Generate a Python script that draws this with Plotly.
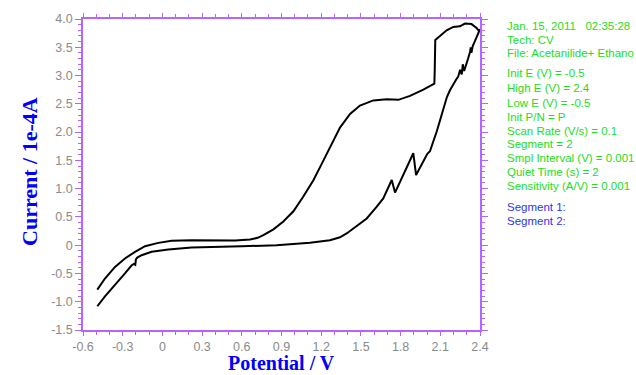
import plotly.graph_objects as go

# Forward scan (upper branch), ascending potential
fwd_E = [-0.492, -0.434, -0.358, -0.283, -0.207, -0.131, -0.031, 0.07, 0.221, 0.397,
         0.55, 0.662, 0.72, 0.763, 0.839, 0.914, 0.99, 1.065, 1.141, 1.2, 1.266,
         1.342, 1.418, 1.493, 1.594, 1.695, 1.783, 1.871, 1.972, 2.055, 2.058,
         2.062, 2.08, 2.148, 2.198, 2.248, 2.286, 2.336, 2.374, 2.395]
fwd_I = [-0.786, -0.59, -0.385, -0.236, -0.118, -0.018, 0.041, 0.077, 0.089, 0.08,
         0.085, 0.10, 0.13, 0.177, 0.28, 0.42, 0.60, 0.86, 1.15, 1.42, 1.74,
         2.08, 2.32, 2.47, 2.56, 2.58, 2.57, 2.64, 2.75, 2.855, 3.1,
         3.63, 3.665, 3.80, 3.86, 3.87, 3.92, 3.91, 3.84, 3.78]

# Reverse scan (lower branch), descending potential
rev_E = [2.40, 2.375, 2.36, 2.345, 2.335, 2.33, 2.325, 2.31, 2.295, 2.28, 2.27,
         2.262, 2.25, 2.235, 2.22, 2.195, 2.173, 2.15, 2.123, 2.1, 2.073, 2.045,
         2.022, 2.002, 1.917, 1.896, 1.758, 1.733, 1.669, 1.62, 1.544, 1.443,
         1.392, 1.342, 1.266, 1.115, 0.863, 0.6, 0.397, 0.221, 0.045, -0.081,
         -0.157, -0.19, -0.2, -0.205, -0.215, -0.232, -0.283, -0.358, -0.434, -0.492]
rev_I = [3.82, 3.70, 3.60, 3.52, 3.40, 3.50, 3.42, 3.30, 3.17, 3.08, 3.20,
         3.02, 3.10, 2.98, 2.93, 2.83, 2.74, 2.62, 2.40, 2.22, 2.01, 1.82,
         1.66, 1.615, 1.24, 1.626, 0.93, 1.153, 0.828, 0.68, 0.473, 0.296,
         0.207, 0.14, 0.089, 0.041, 0.0, -0.02, -0.03, -0.041, -0.077, -0.118,
         -0.177, -0.22, -0.25, -0.345, -0.33, -0.355, -0.50, -0.697, -0.904, -1.08]

x_ticks = [-0.6, -0.3, 0, 0.3, 0.6, 0.9, 1.2, 1.5, 1.8, 2.1, 2.4]
x_labels = ["-0.6", "-0.3", "0", "0.3", "0.6", "0.9", "1.2", "1.5", "1.8", "2.1", "2.4"]
y_ticks = [-1.5, -1.0, -0.5, 0, 0.5, 1.0, 1.5, 2.0, 2.5, 3.0, 3.5, 4.0]
y_labels = ["-1.5", "-1.0", "-0.5", "0", "0.5", "1.0", "1.5", "2.0", "2.5", "3.0", "3.5", "4.0"]

info_green = ["Jan. 15, 2011   02:35:28", "Tech: CV", "File: Acetanilide+ Ethano",
              "Init E (V) = -0.5", "High E (V) = 2.4", "Low E (V) = -0.5", "Init P/N = P",
              "Scan Rate (V/s) = 0.1", "Segment = 2", "Smpl Interval (V) = 0.001",
              "Quiet Time (s) = 2", "Sensitivity (A/V) = 0.001"]
info_green_y = [26, 40, 53, 73, 88, 103, 117, 131, 144, 158, 172, 186]
info_blue = ["Segment 1:", "Segment 2:"]
info_blue_y = [207, 221]

E = fwd_E + rev_E
I = fwd_I + rev_I

fig = go.Figure()
fig.add_trace(go.Scatter(x=E, y=I, mode="lines",
                         line=dict(color="black", width=2), showlegend=False))

axis_col = "#b266ff"
sans = "Liberation Sans, Arial, sans-serif"
serif = "Liberation Serif, Times New Roman, serif"

common = dict(showline=True, linecolor=axis_col, linewidth=1.5, mirror="allticks",
              ticks="outside", tickcolor=axis_col, tickwidth=1,
              showgrid=False, zeroline=False,
              tickfont=dict(family=sans, size=12.5, color="#8a8a8a"))

fig.update_xaxes(range=[-0.6, 2.4], tickvals=x_ticks, ticktext=x_labels, ticklen=4,
                 minor=dict(ticks="outside", ticklen=3, dtick=0.1, tick0=0,
                            tickcolor=axis_col, showgrid=False),
                 **common)
fig.update_yaxes(range=[-1.5, 4.0], tickvals=y_ticks, ticktext=y_labels, ticklen=6,
                 minor=dict(ticks="outside", ticklen=3, dtick=0.1, tick0=0,
                            tickcolor=axis_col, showgrid=False),
                 **common)

top_px, bot_px, left_px, right_px = 19.4, 329.6, 83, 480
H = bot_px - top_px
W = right_px - left_px

def py(p):
    return (bot_px - p) / H

def px(p):
    return (p - left_px) / W

ann = []
ann.append(dict(text="<b>Current / 1e-4A</b>", x=px(30), y=py(172), xref="paper", yref="paper",
                textangle=-90, showarrow=False, xanchor="center", yanchor="middle",
                font=dict(family=serif, size=22, color="#0000ff")))
ann.append(dict(text="<b>Potential / V</b>", x=px(281), y=py(375), xref="paper", yref="paper",
                showarrow=False, xanchor="center", yanchor="bottom",
                font=dict(family=serif, size=20, color="#0000ff")))
for t, yy in zip(info_green, info_green_y):
    ann.append(dict(text=t, x=px(505), y=py(yy), xref="paper", yref="paper",
                    showarrow=False, xanchor="left", yanchor="middle",
                    font=dict(family=sans, size=11.5, color="#22dd22")))
for t, yy in zip(info_blue, info_blue_y):
    ann.append(dict(text=t, x=px(505), y=py(yy), xref="paper", yref="paper",
                    showarrow=False, xanchor="left", yanchor="middle",
                    font=dict(family=sans, size=11.5, color="#3333ee")))

fig.update_layout(width=636, height=375, plot_bgcolor="white", paper_bgcolor="white",
                  margin=dict(l=left_px, r=636 - right_px, t=top_px, b=375 - bot_px),
                  annotations=ann)

fig.write_html("out.html")
